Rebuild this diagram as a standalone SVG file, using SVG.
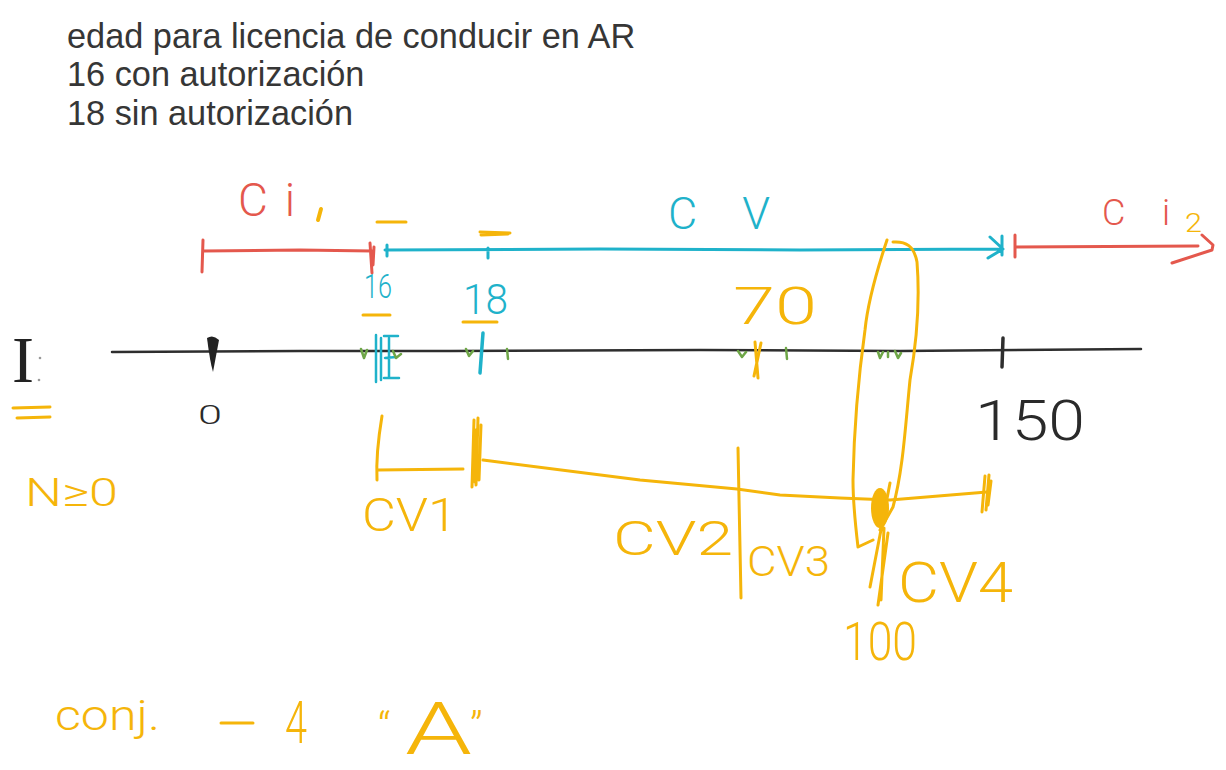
<svg xmlns="http://www.w3.org/2000/svg" width="1226" height="770" viewBox="0 0 1226 770">
<style>
.typed{font-family:"Liberation Sans",Arial,sans-serif;font-size:34.3px;fill:#363636}
.hw{font-family:Roboto,"Liberation Sans",Arial,sans-serif;font-weight:300}
.red{fill:#e4584d}.cyan{fill:#1fb2ca}.org{fill:#f5b50a}.blk{fill:#2a2a2a}
.sr{fill:none;stroke:#e4584d;stroke-width:3;stroke-linecap:round;stroke-linejoin:round}
.sc{fill:none;stroke:#1fb2ca;stroke-width:3;stroke-linecap:round;stroke-linejoin:round}
.so{fill:none;stroke:#f5b50a;stroke-width:3;stroke-linecap:round;stroke-linejoin:round}
.sk{fill:none;stroke:#2e2e2e;stroke-width:3;stroke-linecap:round;stroke-linejoin:round}
.sg{fill:none;stroke:#6ea647;stroke-width:2.5;stroke-linecap:round;stroke-linejoin:round}
</style>
<rect width="1226" height="770" fill="#ffffff"/>

<g id="header">
<text class="typed" x="67" y="48">edad para licencia de conducir en AR</text>
<text class="typed" x="67" y="86">16 con autorización</text>
<text class="typed" x="67" y="125">18 sin autorización</text>
</g>

<g id="connectors">
<!-- main axis -->
<path class="sk" style="stroke-width:2.5" d="M112,352 L300,351 L450,351 L700,350 L900,351 L1141,349"/>
<!-- Ci1 red interval -->
<path class="sr" d="M203,251 L300,250 L372,251 M203,240 L202,272 M370,243 L372,273 M374,247 L373,265"/>
<!-- CV cyan arrow -->
<path class="sc" d="M385,250 L600,249 L800,250 L1002,249 M387,245 L387,256 M990,237 L1003,249 L988,258 M1002,236 L1002,255 M488,248 L488,258"/>
<!-- Ci2 red open arrow -->
<path class="sr" d="M1015,235 L1015,257 M1015,247 L1198,246 M1202,235 L1213,245 L1212,250 L1172,263"/>
<!-- axis ticks -->
<path d="M207,338 Q213,334 219,340 L213,372 Q210,362 207,338 Z" fill="#222"/>
<path class="sk" style="stroke-width:3.5" d="M1003,338 L1002,367"/>
<path class="sc" style="stroke-width:3.5" d="M483,333 L480,373"/>
<path class="sc" style="stroke-width:2.5" d="M376,335 L376,382 M381,338 L381,380 M384,336 L398,336 M385,358 L396,357 M384,378 L399,378 M389,338 L389,378"/>
<path class="so" d="M755,342 L758,378 M761,343 L754,376"/>
<!-- green marks -->
<path class="sg" d="M361,349 L364,358 L367,350 M393,351 L396,358 L401,354 M466,349 L469,356 L473,351 M507,349 L508,359 M738,351 L742,357 L746,352 M786,348 L787,359 M878,352 L880,358 L883,352 M888,352 L888,357 M895,351 L898,358 L901,353"/>
<!-- orange overlines / underlines / equals -->
<path class="so" d="M377,222 L406,222 M480,232 L510,233 M481,235 L508,234 M363,315 L390,315 M463,322 L497,322 M13,408 L50,407 M17,418 L50,417"/>
<path class="so" style="stroke-width:4" d="M318,220 L321,209"/>
<!-- orange loop around 100 -->
<path class="so" d="M887,240 C877,270 868,300 865,330 C858,380 854,430 853,480 C853,505 856,530 858,547 L873,540"/>
<path class="so" d="M893,242 C906,241 914,246 917,262 C920,300 917,340 910,380 C905,430 903,470 893,507 L880,530"/>
<!-- CV1 bracket and timeline -->
<path class="so" d="M382,416 C378,440 376,460 377,480 M378,470 L463,469"/>
<path class="so" d="M474,420 L472,487 M478,418 L476,485 M481,425 L479,480 M476,430 L475,482"/>
<path class="so" d="M483,460 L640,480 L737,489 L780,495 L840,498 L890,500 L987,492"/>
<path class="so" d="M985,476 L982,512 M989,475 L986,510 M991,481 L988,505"/>
<path class="so" d="M738,448 L741,598"/>
<ellipse cx="880" cy="508" rx="9" ry="20" fill="#f5b50a"/>
<path class="so" d="M890,483 L870,587 M888,533 L878,605 M884,528 L881,600"/>
</g>

<g id="label-I">
<text x="12" y="382" font-family="Liberation Serif,serif" font-size="66" fill="#222" textLength="22" lengthAdjust="spacingAndGlyphs">I</text>
<circle cx="40" cy="358" r="1.3" fill="#999"/><circle cx="39" cy="380" r="1.3" fill="#999"/>
</g>
<g id="label-N"><text class="hw org" x="25" y="506" font-size="38" textLength="93" lengthAdjust="spacingAndGlyphs">N≥0</text></g>
<g id="label-0"><text class="hw blk" x="198" y="424" font-size="25" textLength="24" lengthAdjust="spacingAndGlyphs">0</text></g>
<g id="label-Ci1"><text class="hw red" x="238" y="216" font-size="46" textLength="57">Ci</text></g>
<g id="label-16"><text class="hw cyan" x="364" y="298" font-size="33" textLength="28" lengthAdjust="spacingAndGlyphs">16</text></g>
<g id="label-18"><text class="hw cyan" x="463" y="314" font-size="42" textLength="45" lengthAdjust="spacingAndGlyphs">18</text></g>
<g id="label-CV"><text class="hw cyan" x="668" y="229" font-size="45" textLength="102">CV</text></g>
<g id="label-70"><text class="hw org" x="733" y="324" font-size="52" textLength="84" lengthAdjust="spacingAndGlyphs">70</text></g>
<g id="label-Ci2"><text class="hw red" x="1102" y="225" font-size="36" textLength="68">Ci</text><text class="hw org" x="1185" y="232" font-size="26" textLength="17" lengthAdjust="spacingAndGlyphs">2</text></g>
<g id="label-150"><text class="hw blk" x="975" y="440" font-size="56" textLength="110" lengthAdjust="spacingAndGlyphs">150</text></g>
<g id="label-CV1"><text class="hw org" x="362" y="531" font-size="46" textLength="95" lengthAdjust="spacingAndGlyphs">CV1</text></g>
<g id="label-CV2"><text class="hw org" x="613" y="555" font-size="48" textLength="120" lengthAdjust="spacingAndGlyphs">CV2</text></g>
<g id="label-CV3"><text class="hw org" x="747" y="576" font-size="42" textLength="83" lengthAdjust="spacingAndGlyphs">CV3</text></g>
<g id="label-CV4"><text class="hw org" x="898" y="602" font-size="56" textLength="115" lengthAdjust="spacingAndGlyphs">CV4</text></g>
<g id="label-100"><text class="hw org" x="843" y="660" font-size="54" textLength="74" lengthAdjust="spacingAndGlyphs">100</text></g>
<g id="label-conj">
<text class="hw org" x="55" y="730" font-size="42" textLength="105" lengthAdjust="spacingAndGlyphs">conj.</text>
<path class="so" d="M221,723 L253,723"/>
<text class="hw org" x="285" y="743" font-size="60" textLength="22" lengthAdjust="spacingAndGlyphs">4</text>
<text class="hw org" x="378" y="742" font-size="42">“</text>
<text class="hw org" x="405" y="754" font-size="72" textLength="67" lengthAdjust="spacingAndGlyphs">A</text>
<text class="hw org" x="470" y="742" font-size="42">”</text>
</g>
</svg>
